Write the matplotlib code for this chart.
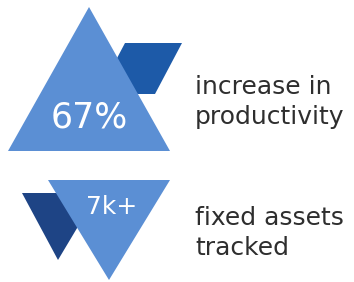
import matplotlib.pyplot as plt
from matplotlib.patches import Polygon

# Stats shown on the infographic
values = ['67%', '7k+']
captions = [['increase in', 'productivity'], ['fixed assets', 'tracked']]

LIGHT = '#5b8fd4'
DARK_TOP = '#1d5aa8'
DARK_BOTTOM = '#1e4485'
TEXT = '#2e2e2e'

W, H = 354, 282
fig = plt.figure(figsize=(W / 100, H / 100), dpi=100)
ax = fig.add_axes([0, 0, 1, 1])
ax.set_xlim(0, W)
ax.set_ylim(H, 0)
ax.axis('off')

# top block: dark parallelogram behind an upward triangle
ax.add_patch(Polygon([(125, 43), (182, 43), (155, 94), (98, 94)],
                     closed=True, color=DARK_TOP, lw=0))
ax.add_patch(Polygon([(89, 7), (170, 151), (8, 151)],
                     closed=True, color=LIGHT, lw=0))

# bottom block: dark triangle behind a downward triangle
ax.add_patch(Polygon([(22, 193), (98, 193), (58, 260)],
                     closed=True, color=DARK_BOTTOM, lw=0))
ax.add_patch(Polygon([(48, 180), (170, 180), (109, 280)],
                     closed=True, color=LIGHT, lw=0))

ax.text(89, 118, values[0], color='white', fontsize=25,
        ha='center', va='center')
ax.text(112, 207, values[1], color='white', fontsize=18,
        ha='center', va='center')

baselines = [(94, 124), (225, 255)]
for lines, ys in zip(captions, baselines):
    for line, y in zip(lines, ys):
        ax.text(195, y, line, color=TEXT, fontsize=18,
                ha='left', va='baseline')

fig.savefig('out.png', dpi=100)
